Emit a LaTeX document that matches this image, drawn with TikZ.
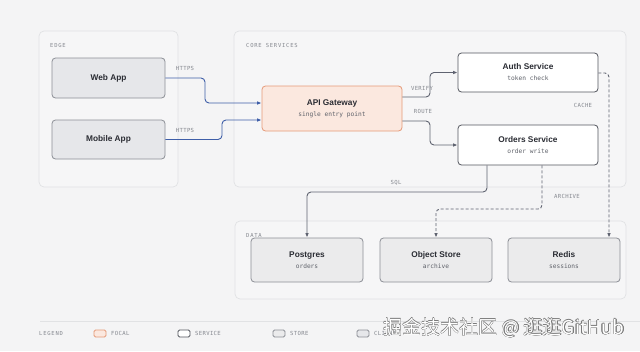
\documentclass[tikz,border=0pt]{standalone}
\usepackage{fontspec}
\setmainfont{Liberation Sans}
\newfontfamily\monofont{DejaVu Sans Mono}
\newfontfamily\lblfont[LetterSpace=6]{DejaVu Sans Mono}
\newfontfamily\grpfont[LetterSpace=14]{DejaVu Sans Mono}
\newfontfamily\cjkfont{Noto Sans CJK SC}
\usetikzlibrary{arrows.meta}
\definecolor{bgc}{HTML}{F4F4F5}
\definecolor{grpfill}{HTML}{F6F6F7}
\definecolor{grpline}{HTML}{E1E2E4}
\definecolor{clientfill}{HTML}{E6E7EA}
\definecolor{storefill}{HTML}{EBEBEC}
\definecolor{boxline}{HTML}{8C8F96}
\definecolor{svcline}{HTML}{53565E}
\definecolor{focalfill}{HTML}{FBE8DF}
\definecolor{focalline}{HTML}{E59A78}
\definecolor{titlec}{HTML}{2A2C33}
\definecolor{subc}{HTML}{5E6169}
\definecolor{lblc}{HTML}{85888F}
\definecolor{bluec}{HTML}{3E5EA8}
\definecolor{grayc}{HTML}{5F6370}
\definecolor{wmgray}{HTML}{7A7A7A}
\newcommand{\titlef}{\fontsize{8.3}{10}\selectfont\bfseries\color{titlec}}
\newcommand{\subf}{\fontsize{6.2}{8}\selectfont\monofont\color{subc}}
\tikzset{
  grp/.style={draw=grpline, fill=grpfill, line width=0.7pt, rounded corners=5pt},
  grplbl/.style={font=\fontsize{5.5}{6}\selectfont\grpfont, text=lblc, anchor=west, inner sep=0pt},
  edgelbl/.style={font=\fontsize{5.6}{6}\selectfont\lblfont, text=lblc, inner sep=0pt},
  basebox/.style={rounded corners=3.5pt, line width=0.8pt, align=center, inner sep=0pt},
  clientbox/.style={basebox, draw=boxline, fill=clientfill, minimum width=113pt, minimum height=40pt},
  focalbox/.style={basebox, draw=focalline, fill=focalfill, minimum width=140pt, minimum height=45pt},
  svcbox/.style={basebox, draw=svcline, fill=white, minimum width=140pt, minimum height=40pt},
  storebox/.style={basebox, draw=boxline, fill=storefill, minimum width=112pt, minimum height=44pt},
  blueconn/.style={draw=bluec, line width=0.9pt, rounded corners=4pt, -{Latex[length=4.5pt,width=3.6pt]}},
  grayconn/.style={draw=grayc, line width=0.9pt, rounded corners=4pt, -{Latex[length=4.5pt,width=3.6pt]}},
  dashconn/.style={grayconn, dash pattern=on 3pt off 2pt},
  legbox/.style={rounded corners=1.5pt, line width=0.8pt, minimum width=12pt, minimum height=7pt, inner sep=0pt},
  wm/.style={font=\fontsize{19}{21}\selectfont\cjkfont, inner sep=0pt}
}
\begin{document}
\begin{tikzpicture}[x=1pt,y=-1pt]
\fill[bgc] (0,0) rectangle (640,351);
\useasboundingbox (0,0) rectangle (640,351);

% groups
\draw[grp] (39,31) rectangle (178,187);
\draw[grp] (234,31) rectangle (626,187);
\draw[grp] (235,221) rectangle (626,299);
\node[grplbl] (gedge) at (50,45) {EDGE};
\node[grplbl] (gcore) at (246,45) {CORE SERVICES};
\node[grplbl] (gdata) at (246,235) {DATA};

% nodes
\node[clientbox] (web) at (108.5,78) {\titlef Web App};
\node[clientbox, minimum height=39pt] (mobile) at (108.5,139.5) {\titlef Mobile App};
\node[focalbox] (api) at (332,108.5) {\titlef API Gateway\\[-1pt]\subf single entry point};
\node[svcbox, minimum height=39pt] (auth) at (528,72.5) {\titlef Auth Service\\[-1pt]\subf token check};
\node[svcbox] (orders) at (528,145) {\titlef Orders Service\\[-1pt]\subf order write};
\node[storebox] (pg) at (307,260) {\titlef Postgres\\[-1pt]\subf orders};
\node[storebox] (obj) at (436,260) {\titlef Object Store\\[-1pt]\subf archive};
\node[storebox] (redis) at (564,260) {\titlef Redis\\[-1pt]\subf sessions};

% connectors
\draw[blueconn] (web.east) -- (205,78) |- ([yshift=5.5pt]api.west);
\draw[blueconn] (mobile.east) -- (222,139.5) |- ([yshift=-11.5pt]api.west);
\draw[grayconn] ([yshift=11.5pt]api.east) -- (430,97) |- (auth.west);
\draw[grayconn] ([yshift=-12.5pt]api.east) -- (430,121) |- (orders.west);
\draw[grayconn] ([xshift=-41pt]orders.south) -- (487,192) -| (pg.north);
\draw[dashconn] ([xshift=14pt]orders.south) -- (542,209) -| (obj.north);
\draw[dashconn] ([yshift=-0.5pt]auth.east) -| ([xshift=45pt]redis.north);

% connector labels
\node[edgelbl] (l1) at (185,68) {HTTPS};
\node[edgelbl] (l2) at (185,130) {HTTPS};
\node[edgelbl] (l3) at (422,88) {VERIFY};
\node[edgelbl] (l4) at (423,111) {ROUTE};
\node[edgelbl] (l5) at (396,183) {SQL};
\node[edgelbl] (l6) at (567,196) {ARCHIVE};
\node[edgelbl] (l7) at (583,105) {CACHE};

% legend
\draw[grpline, line width=0.7pt] (40,321) -- (640,321);
\node[grplbl] (leg) at (39,333.5) {LEGEND};
\node[legbox, draw=focalline, fill=focalfill] (lb1) at (100,333.5) {};
\node[edgelbl, anchor=west] (lt1) at (111,333.5) {FOCAL};
\node[legbox, draw=svcline, fill=white] (lb2) at (184,333.5) {};
\node[edgelbl, anchor=west] (lt2) at (195,333.5) {SERVICE};
\node[legbox, draw=boxline, fill=storefill] (lb3) at (279,333.5) {};
\node[edgelbl, anchor=west] (lt3) at (290,333.5) {STORE};
\node[legbox, draw=boxline, fill=clientfill] (lb4) at (363,333.5) {};
\node[edgelbl, anchor=west] (lt4) at (374,333.5) {CLIENT};

% watermark
\foreach \dx/\dy/\i in {0.45/0/1,-0.45/0/2,0/0.45/3,0/-0.45/4,0.32/0.32/5,-0.32/0.32/6,0.32/-0.32/7,-0.32/-0.32/8}
  \node[wm, text=wmgray] (wmo\i) at (504+\dx,328+\dy) {掘金技术社区 @ 逛逛GitHub};
\node[wm, text=white] (wm) at (504,328) {掘金技术社区 @ 逛逛GitHub};
\end{tikzpicture}
\end{document}
